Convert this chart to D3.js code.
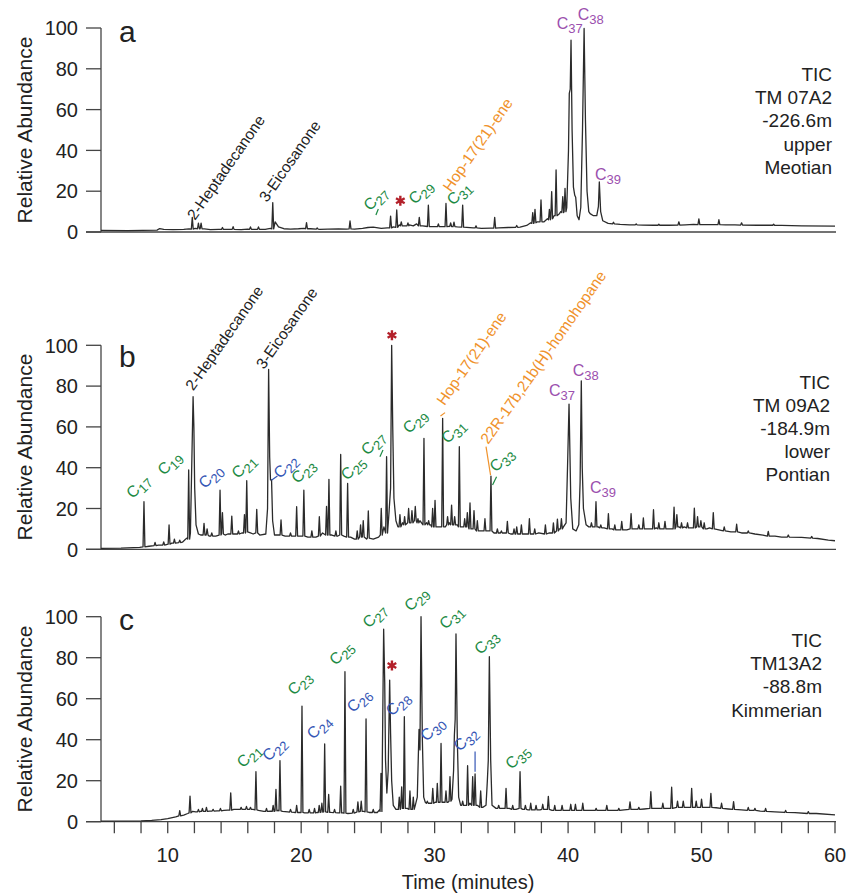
<!DOCTYPE html>
<html lang="en">
<head>
<meta charset="utf-8">
<title>TIC chromatograms</title>
<style>
  body { margin: 0; background: #fff; }
  svg { display: block; font-family: "Liberation Sans", Arial, sans-serif; }
  .axis line, .axis path { stroke: #444; stroke-width: 1.3; fill: none; }
  .trace { fill: none; stroke: #2b2b2b; stroke-width: 1.3; stroke-linejoin: round; }
</style>
</head>
<body>
<svg id="chart" width="850" height="895"></svg>
<script src="https://d3js.org/d3.v7.min.js"></script>
<script>
// ---- data: background trace points [time, abundance] ----
const baseA = [[5,0.8],[7,0.7],[9.2,0.9],[9.4,1.7],[9.7,1.3],[10.4,1.2],[11.2,1.3],[11.6,1.5],[12.05,1.8],[12.75,1.5],[13.2,1.2],[13.8,1.3],[14.5,1.3],[15.5,1.2],[16,1.4],[16.5,1.3],[17.3,1.3],[17.7,1.8],[18.05,5],[18.3,2.5],[18.7,1.6],[19.2,1.4],[19.8,1.6],[20.2,1.8],[20.7,1.6],[21.4,1.3],[22,1.4],[22.8,1.5],[23.4,1.4],[24,1.4],[24.6,1.8],[25,2.2],[25.4,2.4],[26,1.8],[26.45,2],[26.9,2.5],[27.35,3.5],[27.8,3],[28.1,3.5],[28.4,3],[28.65,4],[29.1,3],[29.8,2.6],[30.5,2.6],[31.1,2.8],[31.7,2.5],[32.4,2.3],[32.9,2],[33.5,1.8],[34.2,1.9],[34.8,2],[35.5,2.2],[36.4,2.4],[36.9,3.2],[37.2,4.5],[37.7,5],[38.2,5],[38.45,6.5],[38.95,8],[39.35,9],[39.45,10],[39.9,12],[40.03,40],[40.09,68],[40.16,70],[40.22,94],[40.3,50],[40.4,22],[40.5,18],[40.57,17],[40.68,8],[40.82,6],[40.95,12],[41.08,50],[41.2,99.8],[41.3,55],[41.42,20],[41.55,10],[41.65,9],[41.9,8],[42.15,8],[42.27,12.4],[42.34,24.5],[42.44,10],[42.6,5.5],[43,4.2],[43.9,3.7],[44.6,3.5],[45.6,3.4],[46.4,3.3],[47.5,3.3],[48.8,3.5],[49.4,3.7],[50.5,3.6],[51.8,3.5],[52.5,3.5],[54.2,3.3],[56,3.2],[57.5,3],[60,2.9]];

const baseB = [[5,0.5],[6.5,0.6],[7.9,0.9],[8.6,1.5],[9.3,2],[9.9,2.3],[10.3,3],[10.7,3.2],[11.1,3.5],[11.35,5],[11.45,5.5],[11.7,8],[11.9,74.8],[11.96,60],[12.02,30],[12.12,12],[12.3,7.5],[12.5,7],[13.1,6.5],[13.6,6.5],[14.3,7],[14.5,7.5],[15.1,7.5],[15.55,8],[16.2,8],[16.4,7.5],[16.9,7],[17.35,7.5],[17.48,20],[17.56,88.2],[17.64,45],[17.7,34],[17.78,34],[17.86,14],[18,7],[18.25,7],[18.8,6.5],[19.4,6.5],[19.9,6.5],[20.5,6],[21.1,6],[21.6,8],[22.3,7],[22.75,6.5],[23.2,6.5],[23.7,6],[24,5],[24.9,5],[25.4,5],[25.8,6],[26.2,11],[26.55,15],[26.7,30],[26.78,100],[26.86,60],[26.95,25],[27.1,14],[27.25,11],[27.6,13],[28.9,14],[29.4,13],[29.7,12],[30.3,11],[30.8,11],[31.1,13],[31.7,12],[32.05,11],[32.8,10],[33.4,9],[33.6,9],[34.05,9],[34.45,8],[34.9,8],[35.7,7.5],[36.3,7.5],[36.8,7.5],[37.8,8],[38.6,8],[39.35,10],[39.65,11],[39.85,13],[39.96,41],[40.07,71.2],[40.13,50],[40.2,25],[40.35,10],[40.6,9],[40.8,12],[40.9,33],[40.99,82.6],[41.06,40],[41.15,20],[41.35,12],[41.55,11],[41.9,11],[42.25,11],[42.7,10.5],[43.3,10],[43.8,9.5],[44.4,9.5],[45,10],[46,10],[46.6,10.5],[47,10],[47.6,10],[48.3,11],[48.7,11],[49.2,10.5],[50.4,10],[50.6,10.5],[51.3,9.5],[52.2,8.5],[53,8],[54,7.5],[54.6,7],[55.5,6.5],[56,6],[57.5,5.8],[58.7,5.3],[59.5,4.5],[60,4.2]];

const baseC = [[5,0.3],[8,0.4],[8.8,0.6],[9.5,1],[10,1.5],[10.6,2.3],[11.2,3.2],[11.5,4],[11.85,5],[12.1,4.8],[12.45,5],[13.15,5.2],[13.7,5.3],[14.2,5.5],[14.5,5.6],[14.95,6],[15.3,6],[15.7,6],[16.4,6],[16.8,5.5],[17.2,5],[17.7,5.2],[18.26,5.5],[18.6,5],[19,4.8],[19.5,4.5],[19.9,4.5],[20.25,4.3],[20.8,4.3],[21.2,4.5],[22.25,4.5],[22.75,4.3],[23.1,4.3],[23.5,4],[24.1,4.5],[24.7,5],[25.1,4.5],[25.7,4.5],[25.9,6],[26.08,30],[26.18,93.9],[26.26,68],[26.32,30],[26.42,14],[26.52,25],[26.63,69.1],[26.7,43],[26.78,20],[26.9,8],[27.1,6],[27.2,6],[27.95,6.5],[28.3,6],[28.55,8],[28.7,12],[28.77,30],[28.83,45],[28.9,35],[28.98,100],[29.08,40],[29.18,12],[29.3,9.5],[29.65,9],[30.05,9.5],[30.35,9.5],[30.65,9.5],[31,9.5],[31.3,11],[31.42,25],[31.48,42.3],[31.54,50],[31.6,91.6],[31.7,40],[31.8,12],[31.95,8],[32.3,8],[32.65,9],[33.2,8],[33.6,7],[33.85,8],[33.95,20],[34.02,30],[34.1,80.5],[34.2,30],[34.3,8],[34.6,6.5],[35.1,6.5],[35.6,6.5],[36.1,6],[36.6,6],[37,5.8],[37.4,5.8],[37.9,5.8],[38.3,6],[38.8,5.5],[39.3,5.5],[39.8,5.5],[40.35,5.5],[40.8,5.5],[41.5,5.5],[42.5,5.5],[43.3,5.5],[44.2,5.8],[44.9,6],[45.7,6.2],[46.7,6.5],[47.4,6.5],[48.4,7],[48.9,7],[49.85,7],[50.35,7],[51.1,6.8],[52,6.2],[53,5.8],[54.4,5.2],[55.5,4.8],[57,4.4],[58.6,4],[60,3.3]];

// ---- data: sharp peaks [time, apex, foot] ----
const peaksA = [[11.84,7.2,1.4],[12.3,4.3,1.6],[12.5,4.3,1.6],[14.1,2.2,1.3],[14.9,2.6,1.3],[16.2,2.5,1.3],[16.8,2.5,1.3],[17.87,14.4,1.5],[20.4,4.6,1.6],[21.2,2,1.4],[23.66,5.4,1.5],[26.7,7.8,2],[27.16,10.8,2.3],[27.5,5,3],[28,4.5,3],[28.85,7.2,3],[29.53,13.2,2.7],[30.28,4,2.6],[30.85,14,2.6],[31.2,4.5,2.7],[31.45,4.8,2.6],[32.1,13.2,2.4],[33.1,3,2],[34.5,7.2,1.9],[36.15,3.2,2.3],[37.35,9.5,4.2],[37.52,11.1,4.5],[37.97,15.7,5],[38.6,11.1,6],[38.77,19.8,6.5],[39.1,30.4,8],[39.6,17.3,9.5],[39.77,21.4,10],[43.4,4.8,4],[45.1,4,3.5],[46.8,3.8,3.3],[48.3,5,3.4],[49.8,6.4,3.6],[51.3,6,3.6],[53,4.5,3.4],[55.4,3.8,3.3]];

const peaksB = [[8.22,23.3,1.2],[9.05,3.4,1.8],[9.7,3.6,2.1],[10.1,11.9,2.5],[10.5,5,3],[10.9,4.5,3.3],[11.57,38.9,5],[12.72,12.7,7],[12.95,10,7],[13.3,8,6.5],[13.92,29,7],[14.1,18,7.5],[14.8,16.3,7.5],[15.3,9,7.5],[15.75,17,8],[15.92,33.6,8.5],[16.67,19.6,8],[18.49,14.4,7],[19.2,8,6.5],[19.66,20.9,6.5],[20.2,29,6.5],[20.8,9,6],[21.36,16,6.5],[21.9,21,7],[22.08,34.3,7],[22.6,9,6.5],[22.96,46.5,7],[23.48,32.3,6],[24.2,9,5],[24.45,12,6],[24.65,14,6],[25.03,18.8,5.5],[26,20,7],[26.4,45.4,8],[27.4,17,11],[27.75,16,12],[28.05,20,13],[28.3,19,13],[28.55,21,14],[28.75,15,13],[29.2,54.4,12],[29.55,14,12],[29.85,20,11],[30.03,24,11],[30.6,64.2,11],[30.97,16,12],[31.27,21.7,12],[31.5,16,12],[31.85,50.3,11],[32.25,15,11],[32.45,18,11],[32.65,22.7,10],[32.95,19,10],[33.2,14,9],[33.77,15,9],[34.22,35.9,9],[34.7,10,8],[35,9,8],[35.45,13.7,8],[35.95,10,7.5],[36.15,11,7.5],[36.5,12,7.5],[37.1,15,7.5],[37.5,10,7.5],[38.3,12,7.5],[38.9,13,8],[39.2,14.8,9],[39.5,15,10],[41.75,13,11],[42.09,23.3,11],[42.45,12,10.5],[43.02,17.5,10],[43.5,12,9.5],[44.02,13.7,9.5],[44.72,17.5,10],[45.3,12,10],[45.64,15.4,10],[46.4,19.4,10],[46.8,13,10],[47.26,13.7,10],[47.94,20.7,10],[48.15,17,11],[48.5,13,10.5],[48.95,13,10.5],[49.46,20.2,10.5],[49.7,16,11],[49.95,14,11],[50.2,13,10],[50.88,18,10],[51.7,11,9],[52.63,12.3,8.5],[53.5,9,8],[55,8.8,6.5],[56.5,7,6],[58.25,6.3,5.5]];

const peaksC = [[10.9,5.4,2.8],[11.67,12.5,4.3],[12.3,6,4.8],[12.6,6.5,5],[12.9,7,5],[13.4,6,5.2],[13.95,6.5,5.3],[14.72,14.1,5.6],[15.5,7,6],[15.9,7.5,6],[16.2,7,6],[16.61,24.4,5.8],[17.4,6.5,5],[17.9,8,5],[18.11,15.8,5.3],[18.41,29.8,5.3],[19.2,6,4.7],[19.66,8,4.5],[20.06,56.4,4.5],[20.6,6,4.3],[21,6.5,4.3],[21.35,8,4.5],[21.55,9,4.7],[21.76,37.9,4.8],[22.06,13.3,4.6],[22.5,6,4.4],[22.96,17.3,4.3],[23.28,73.2,4.2],[23.9,6,4.2],[24.25,9.7,4.8],[24.5,10,5],[24.86,50.1,4.8],[25.4,6,4.5],[25.98,23.6,5],[27.35,12,6],[27.53,17,6.5],[27.73,51.2,6.5],[28.15,15,6],[28.4,12,6],[29.45,10,9],[29.86,16.3,9],[30.2,18.7,9.5],[30.48,38.2,9.5],[30.85,15,9.5],[31.15,22,10],[32.1,10,8],[32.47,27.3,8],[32.85,22,8],[33.03,23.3,8],[33.45,15,7],[34.8,8,6.5],[35.35,16.3,6.5],[35.85,8,6],[36.4,24.4,6.5],[36.8,8,6],[37.2,9,5.8],[37.6,8,5.8],[38.1,8.5,6],[38.52,12.4,6],[39,8,5.5],[39.55,8,5.5],[40.2,8.5,5.5],[40.55,8.5,5.5],[41.1,9,5.5],[42.1,6.5,5.5],[42.9,8,5.5],[43.8,6.5,5.5],[44.64,9.7,6],[45.3,7,6],[46.2,14.6,6.5],[47.1,9,6.5],[47.76,16.8,6.5],[48.2,10,7],[48.63,10,7],[49.26,16.3,7],[49.6,10,7],[50,11,7],[50.7,13.8,7],[51.5,9,6.5],[52.4,9.8,6],[53.5,7,5.5],[54,6.5,5.5],[54.8,6.5,5],[56.3,5.5,4.5],[58,4.9,4]];

// ---- data: peak tags [label, subscript, time, abundance, group] ----
const tagsA = [["C","27",25.16,10.0,"odd"],["C","29",28.53,13.2,"odd"],["C","31",31.4,12.7,"odd"],
  ["C","37",39.15,99.4,"alkenone"],["C","38",40.72,103.9,"alkenone"],["C","39",42.02,25.5,"alkenone"]];
const tagsB = [["C","17",7.37,24.5,"odd"],["C","19",9.72,35.9,"odd"],["C","20",12.79,29.4,"even"],["C","21",15.27,34.3,"odd"],
  ["C","22",18.41,34.3,"even"],["C","23",19.74,31.9,"odd"],["C","25",23.46,33.5,"odd"],["C","27",24.96,45.7,"odd"],
  ["C","29",28.1,56.4,"odd"],["C","31",30.98,51.5,"odd"],["C","33",34.6,37.5,"odd"],
  ["C","37",38.57,75.1,"alkenone"],["C","38",40.35,85,"alkenone"],["C","39",41.64,27.5,"alkenone"]];
const tagsC = [["C","21",15.66,25.9,"odd"],["C","22",17.57,29.1,"even"],["C","23",19.46,61.3,"odd"],["C","24",20.91,39.9,"even"],
  ["C","25",22.59,76,"odd"],["C","26",23.91,52.9,"even"],["C","27",25.08,94.1,"odd"],["C","28",26.83,51.2,"even"],
  ["C","29",28.21,102.3,"odd"],["C","30",29.41,38.9,"even"],["C","31",30.83,93.5,"odd"],["C","32",31.9,34,"even"],
  ["C","33",33.45,81.2,"odd"],["C","35",35.78,25.2,"odd"]];

// compound names [text, time, abundance, group]
const namesA = [["2-Heptadecanone",12.04,5.4,"ketone"],["3-Eicosanone",17.44,14.2,"ketone"],["Hop-17(21)-ene",31.2,19.3,"hopane"]];
const namesB = [["2-Heptadecanone",11.92,77.3,"ketone"],["3-Eicosanone",17.21,87.9,"ketone"],["Hop-17(21)-ene",30.73,70.1,"hopane"],
  ["22R-17b,21b(H)-homohopane",34.02,51.1,"hopane"]];
const namesC = [];

// leader lines [t1, v1, t2, v2, group]
const leadersA = [[25.6,8.3,25.78,11.3,"odd"]];
const leadersB = [[17.77,33.9,18.22,35.9,"even"],[25.9,45.4,26.13,48.7,"odd"],[30.44,65.3,30.78,67,"hopane"],
  [33.85,50.3,34.19,36.4,"hopane"],[34.34,31.5,34.64,35.6,"odd"]];
const leadersC = [[33.03,34.2,33.03,24.4,"even"]];

// unknown compound (*) [time, abundance]
const starA = [27.43, 15.3];
const starB = [26.8, 104.9];
const starC = [26.8, 76.2];

const sampleA = ["TIC", "TM 07A2", "-226.6m", "upper", "Meotian"];
const sampleB = ["TIC", "TM 09A2", "-184.9m", "lower", "Pontian"];
const sampleC = ["TIC", "TM13A2", "-88.8m", "Kimmerian"];

const yTicks = [0, 20, 40, 60, 80, 100];
const xTicks = [6,8,10,12,14,16,18,20,22,24,26,28,30,32,34,36,38,40,42,44,46,48,50,52,54,56,58,60];
const xTickLabels = [10, 20, 30, 40, 50, 60];

const colors = { odd: "#1c8a44", even: "#3556b5", alkenone: "#9b4fae", hopane: "#f0922b", ketone: "#222", star: "#b3202a" };

// ---- layout ----
const svg = d3.select("#chart");
const x = d3.scaleLinear().domain([5, 60]).range([101, 835]);

const panels = [
  { letter: "a", top: 28, bottom: 232, letterY: 41.7, base: baseA, peaks: peaksA, tags: tagsA, names: namesA, leaders: leadersA, star: starA, sample: sampleA, sampleX: 832, sampleY: 81, titleY: 130 },
  { letter: "b", top: 345.3, bottom: 549.3, letterY: 367, base: baseB, peaks: peaksB, tags: tagsB, names: namesB, leaders: leadersB, star: starB, sample: sampleB, sampleX: 830, sampleY: 388.5, titleY: 447 },
  { letter: "c", top: 616.7, bottom: 821.7, letterY: 630, base: baseC, peaks: peaksC, tags: tagsC, names: namesC, leaders: leadersC, star: starC, sample: sampleC, sampleX: 822, sampleY: 647, titleY: 719 }
];

function buildTrace(base, peaks) {
  const w = 0.07;
  const pts = base.filter(b => !peaks.some(p => Math.abs(p[0] - b[0]) < w + 0.005));
  peaks.forEach(p => pts.push([p[0] - w, p[2]], [p[0], p[1]], [p[0] + w, p[2]]));
  return pts.sort((a, b) => a[0] - b[0]);
}

panels.forEach((p, i) => {
  const y = d3.scaleLinear().domain([0, 100]).range([p.bottom, p.top]);
  const g = svg.append("g");

  // y axis
  const yAxis = g.append("g").attr("class", "axis");
  yAxis.append("line").attr("x1", x(5)).attr("x2", x(5)).attr("y1", y(0)).attr("y2", y(100));
  yAxis.selectAll(".ytick").data(yTicks).enter().append("line")
    .attr("x1", x(5) - 15).attr("x2", x(5)).attr("y1", d => y(d)).attr("y2", d => y(d));
  g.selectAll(".ylab").data(yTicks).enter().append("text")
    .attr("x", 78).attr("y", d => y(d)).attr("dy", "0.36em")
    .attr("text-anchor", "end").attr("font-size", 20).attr("fill", "#222")
    .text(d => d);
  // zero line
  yAxis.append("line").attr("x1", x(5) - 15).attr("x2", 836).attr("y1", y(0)).attr("y2", y(0));

  g.append("text")
    .attr("transform", `translate(32,${p.titleY}) rotate(-90)`)
    .attr("text-anchor", "middle").attr("font-size", 21).attr("fill", "#222")
    .text("Relative Abundance");

  g.append("text").attr("x", 119).attr("y", p.letterY)
    .attr("font-size", 30).attr("fill", "#222").text(p.letter);

  // trace
  const line = d3.line().x(d => x(d[0])).y(d => y(d[1]));
  g.append("path").attr("class", "trace").attr("d", line(buildTrace(p.base, p.peaks)));

  // leaders
  g.selectAll(".leader").data(p.leaders).enter().append("line")
    .attr("x1", d => x(d[0])).attr("y1", d => y(d[1]))
    .attr("x2", d => x(d[2])).attr("y2", d => y(d[3]))
    .attr("stroke", d => colors[d[4]]).attr("stroke-width", 1.2);

  // carbon-number tags
  p.tags.forEach(t => {
    const flat = t[4] === "alkenone";
    const txt = g.append("text")
      .attr("transform", `translate(${x(t[2])},${y(t[3])})` + (flat ? "" : " rotate(-45)"))
      .attr("fill", colors[t[4]]);
    txt.append("tspan").attr("font-size", 16).text(t[0]);
    txt.append("tspan").attr("font-size", 13).attr("dy", 4).text(t[1]);
  });

  // compound names
  g.selectAll(".name").data(p.names).enter().append("text")
    .attr("transform", d => `translate(${x(d[1])},${y(d[2])}) rotate(-55)`)
    .attr("font-size", 15.5).attr("fill", d => colors[d[3]])
    .text(d => d[0]);

  // star
  const sx = x(p.star[0]), sy = y(p.star[1]), r = 5;
  const arms = [90, 30, 150].map(a => {
    const rad = a * Math.PI / 180;
    return `M${sx - r * Math.cos(rad)},${sy - r * Math.sin(rad)}L${sx + r * Math.cos(rad)},${sy + r * Math.sin(rad)}`;
  }).join("");
  g.append("path").attr("d", arms).attr("stroke", colors.star).attr("stroke-width", 2.4);

  // sample text
  g.selectAll(".sample").data(p.sample).enter().append("text")
    .attr("x", p.sampleX).attr("y", (d, j) => p.sampleY + j * 23.2)
    .attr("text-anchor", "end").attr("font-size", 19).attr("fill", "#222")
    .text(d => d);

  // time axis on the last panel
  if (i === panels.length - 1) {
    const ax = g.append("g").attr("class", "axis");
    ax.selectAll(".xt").data(xTicks).enter().append("line")
      .attr("x1", d => x(d)).attr("x2", d => x(d))
      .attr("y1", y(0)).attr("y2", y(0) + 11.5);
    g.selectAll(".xlab").data(xTickLabels).enter().append("text")
      .attr("x", d => x(d)).attr("y", 862)
      .attr("text-anchor", "middle").attr("font-size", 20).attr("fill", "#222")
      .text(d => d);
    g.append("text").attr("x", 468).attr("y", 889)
      .attr("text-anchor", "middle").attr("font-size", 20).attr("fill", "#222")
      .text("Time (minutes)");
  }
});
</script>
</body>
</html>
